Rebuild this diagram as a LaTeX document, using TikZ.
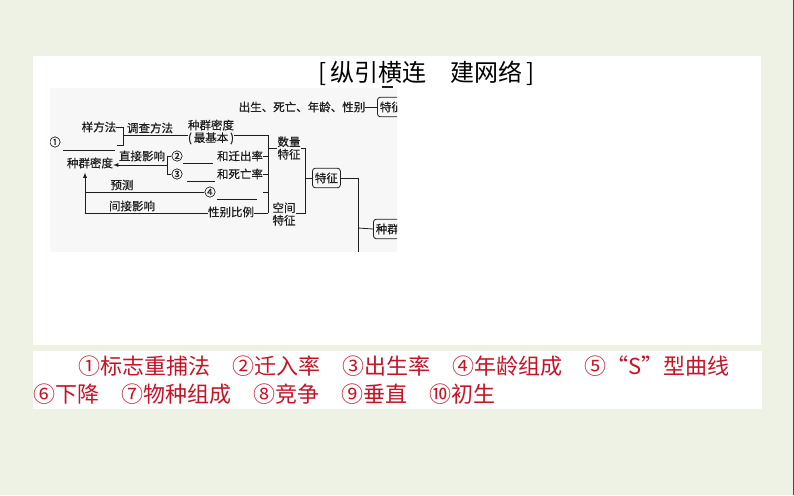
\documentclass[tikz,border=0pt]{standalone}
\usepackage{fontspec}
\setmainfont{Noto Sans CJK SC}
\newfontfamily\minifont[FakeBold=0.5]{Noto Sans CJK SC}
\usetikzlibrary{calc}
\definecolor{bg}{RGB}{238,242,228}
\definecolor{ans}{RGB}{196,20,40}
\definecolor{ink}{RGB}{30,30,30}
\newcommand{\mini}{\minifont\fontsize{11.5}{12.5}\selectfont}
\tikzset{>=latex}
\tikzset{
  txt/.style={inner sep=0pt, font=\mini, text=ink},
  tag/.style={draw=ink, line width=0.8pt, rounded corners=3pt, inner xsep=2.5pt, inner ysep=4.5pt, font=\mini, text=ink},
  ln/.style={draw=ink, line width=0.8pt},
  key/.style={anchor=west, inner sep=0pt, text=ans, font=\fontsize{22}{24}\selectfont}
}

\begin{document}
\begin{tikzpicture}[x=1pt,y=-1pt]
  \useasboundingbox (0,0) rectangle (794,495);
  \fill[bg] (0,0) rectangle (794,495);
  \draw[gray!60!black] (793.5,0) -- (793.5,495);
  \fill[white] (33,56) rectangle (761,345);
  \fill[white] (33,351) rectangle (762,409);
  \node (title) at (427,73) {\fontsize{24}{26}\selectfont [\,纵引横连　建网络\,]};

  % small map
  \fill[gray!6] (50,88) rectangle (397,252);
  \fill[ink] (382,85.5) rectangle (393,88);
  \begin{scope}
    \clip (50,88) rectangle (397,252);
    \coordinate (vx) at (268,135);
    \coordinate (ux) at (85,213);
    \coordinate (k2) at (167,165);
    \coordinate (wx) at (305,178);
    \coordinate (zx) at (358,228);
    \coordinate (zb) at (358,252);

    \node[txt] (csxb) at (302,107) {出生、死亡、年龄、性别};
    \node[tag, anchor=west] (tz1) at (377,107) {特征};
    \draw[ln] (csxb) -- (tz1);

    \node[txt] (yff) at (99,127) {样方法};
    \node[txt] (dcff) at (150,128) {调查方法};
    \node[txt, align=center] (zqmd) at (211,132) {种群密度\\(\,最基本\,)};
    \node[txt] (n1) at (55,142) {①};
    \draw[ln] (63,150) -- (115,150);
    \draw[ln] (yff.east) -- ++(7,0) coordinate (k1) -- ++(0,18) -- ++(-6,0);
    \draw[ln] (k1 |- vx) -- (zqmd.west |- vx);
    \draw[ln] (zqmd.east |- vx) -- (vx) -- (vx |- ux);

    \node[txt] (zqmd2) at (90,163) {种群密度};
    \node[txt] (zjyx) at (142,156) {直接影响};
    \node[txt] (n2) at (177,156) {②};
    \node[txt] (n3) at (177,174) {③};
    \draw[ln] (n2.west) -- (k2 |- n2) -- (k2 |- n3) -- (n3.west);
    \draw[ln,->] (k2) -- (zqmd2.east |- k2);

    \node[txt] (hqcl) at (240,156) {和迁出率};
    \node[txt] (hswl) at (240,174) {和死亡率};
    \draw[ln] (183,163) -- (213,163);
    \draw[ln] (187,181) -- (215,181);
    \draw[ln] (hqcl.east) -- (vx |- hqcl);
    \draw[ln] (hswl.east) -- (vx |- hswl);

    \node[txt] (yc) at (122,185) {预测};
    \node[txt] (n4) at (210,192) {④};
    \node[txt] (jjyx) at (132,206) {间接影响};
    \node[txt] (xbbl) at (231,212) {性别比例};
    \draw[ln] (n4.west) -- (ux |- n4);
    \draw[ln] (217,199) -- (257,199);
    \draw[ln] (263,192) -- (vx |- n4);
    \draw[ln,->,shorten >=4pt] (xbbl.west |- ux) -- (ux) -- (zqmd2.south -| ux);
    \draw[ln] (xbbl.east |- ux) -- (vx |- ux);

    \node[txt, align=center] (slxz) at (289,148) {数量\\特征};
    \node[txt, align=center] (kjxz) at (284,214) {空间\\特征};
    \draw[ln] (vx |- slxz) -- (slxz.west);
    \draw[ln] (slxz.east) -- (wx |- slxz) -- (wx |- ux) -- (kjxz.east |- ux);
    \node[tag, anchor=west] (tz2) at (312,178) {特征};
    \draw[ln] (wx) -- (tz2.west);
    \draw[ln] (tz2.east) -- (zx |- tz2) -- (zb);
    \node[tag, anchor=west] (zq) at (373,229) {种群};
    \draw[ln] (zx) -- (zq.west);
  \end{scope}

  % answers
  \node[key] (a1) at (78,366) {①标志重捕法　②迁入率　③出生率　④年龄组成　⑤“S”型曲线};
  \node[key] (a2) at (33,394) {⑥下降　⑦物种组成　⑧竞争　⑨垂直　⑩初生};
\end{tikzpicture}
\end{document}
